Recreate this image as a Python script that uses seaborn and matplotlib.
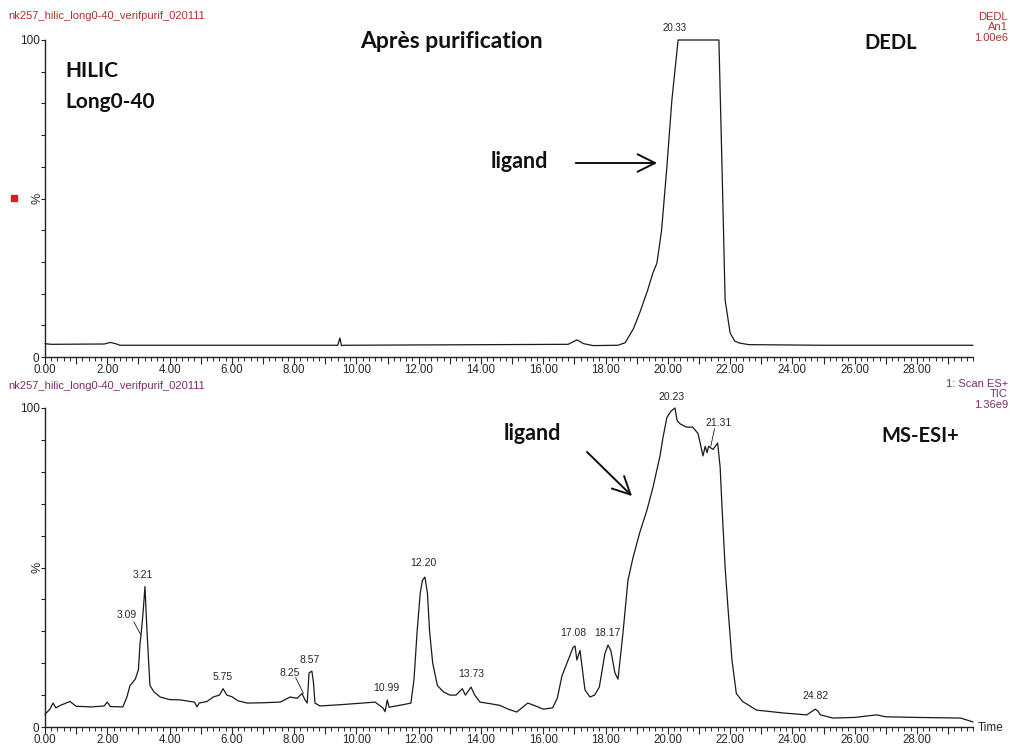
import numpy as np
import pandas as pd
import matplotlib
matplotlib.use("Agg")
import matplotlib.pyplot as plt
import matplotlib.ticker as mticker
import seaborn as sns


# trace 1 : DEDL detector (percent of 1.00e6)
dedl_time = [0.0, 0.2, 1.9, 2.1, 2.3, 2.4, 9.40, 9.47, 9.52, 9.6, 16.8, 17.08, 17.3,
             17.6, 18.4, 18.63, 18.9, 19.1, 19.35, 19.52, 19.65, 19.8, 19.97, 20.13,
             20.33, 21.64, 21.74, 21.84, 22.0, 22.15, 22.3, 22.6, 25.0, 29.8]
dedl_pct = [4.2, 4.0, 4.1, 4.6, 4.1, 3.7, 3.7, 6.0, 3.6, 3.7, 4.0, 5.4, 4.2,
            3.6, 3.7, 4.5, 9.0, 14.0, 21.0, 26.5, 29.6, 40.0, 60.0, 81.0,
            100.0, 100.0, 60.0, 18.0, 7.6, 5.0, 4.4, 3.9, 3.7, 3.7]

# trace 2 : MS-ESI+ TIC (percent of 1.36e9)
tic_time = [0.0, 0.15, 0.26, 0.35, 0.5, 0.8, 1.0, 1.5, 1.9, 2.0, 2.1, 2.5, 2.63, 2.73,
            2.9, 3.0, 3.05, 3.09, 3.15, 3.21, 3.27, 3.33, 3.37, 3.5, 3.7, 4.0, 4.34,
            4.8, 4.88, 4.95, 5.2, 5.4, 5.6, 5.72, 5.78, 5.84, 6.0, 6.2, 6.5, 7.0,
            7.55, 7.87, 8.1, 8.25, 8.35, 8.42, 8.48, 8.57, 8.62, 8.67, 8.83, 9.5,
            10.2, 10.6, 10.85, 10.92, 10.99, 11.05, 11.5, 11.75, 11.85, 11.95, 12.05,
            12.12, 12.2, 12.28, 12.35, 12.45, 12.6, 12.8, 13.0, 13.2, 13.4, 13.5,
            13.68, 13.8, 13.97, 14.3, 14.6, 14.9, 15.15, 15.5, 15.7, 16.0, 16.3,
            16.45, 16.6, 16.8, 16.96, 17.02, 17.08, 17.18, 17.34, 17.5, 17.65, 17.8,
            17.98, 18.08, 18.17, 18.3, 18.4, 18.56, 18.72, 18.88, 19.1, 19.33, 19.52,
            19.75, 19.85, 19.97, 20.1, 20.23, 20.3, 20.4, 20.6, 20.8, 20.97, 21.13,
            21.2, 21.26, 21.31, 21.45, 21.6, 21.68, 21.74, 21.84, 21.93, 22.06, 22.2,
            22.4, 22.85, 23.7, 24.46, 24.6, 24.73, 24.82, 24.9, 25.3, 26.0, 26.7,
            27.0, 28.0, 29.4, 29.8]
tic_pct = [4.0, 5.5, 7.5, 6.0, 6.8, 8.0, 6.5, 6.3, 6.6, 7.8, 6.4, 6.3, 9.4, 13.0,
           15.0, 18.0, 26.0, 29.5, 36.0, 44.0, 31.0, 20.0, 13.0, 11.0, 9.4, 8.6, 8.5,
           7.8, 6.3, 7.5, 8.0, 9.4, 10.0, 12.0, 11.0, 10.0, 9.5, 8.2, 7.5, 7.6,
           7.8, 9.4, 9.0, 10.5, 8.5, 7.5, 17.0, 17.5, 14.0, 7.5, 6.6, 7.0,
           7.5, 7.8, 6.0, 4.8, 8.5, 6.2, 7.0, 7.5, 15.0, 30.0, 42.0,
           46.0, 47.0, 42.0, 30.0, 20.0, 13.0, 11.0, 10.0, 10.0, 12.0, 10.0,
           12.5, 10.0, 7.8, 7.3, 6.8, 5.5, 4.7, 7.5, 6.8, 5.6, 6.0,
           9.0, 16.0, 21.0, 25.0, 25.4, 21.0, 24.0, 11.6, 9.4, 10.0, 12.5,
           23.0, 25.7, 24.0, 17.0, 15.0, 29.5, 46.0, 53.0, 61.0, 68.0, 75.0,
           85.0, 91.0, 97.0, 99.0, 100.0, 96.0, 95.0, 94.0, 94.0, 92.0, 85.0,
           88.0, 86.0, 88.0, 87.0, 89.0, 81.5, 69.0, 50.0, 37.6, 21.0, 10.5,
           8.0, 5.3, 4.4, 3.8, 4.7, 5.6, 5.0, 3.8, 2.8, 3.0, 3.8,
           3.2, 3.0, 2.8, 1.6]

# peak labels (text, time, percent where the label sits)
dedl_labels = ["20.33"]
dedl_label_t = [20.23]
dedl_label_pct = [102.3]

tic_labels = ["3.09", "3.21", "5.75", "8.25", "8.57", "10.99", "12.20", "13.73",
              "17.08", "18.17", "20.23", "21.31", "24.82"]
tic_label_t = [2.62, 3.15, 5.72, 7.85, 8.5, 10.95, 12.14, 13.68, 16.96, 18.05,
               20.13, 21.62, 24.73]
tic_label_pct = [33.5, 46.0, 14.0, 15.5, 19.5, 10.8, 50.0, 15.0, 27.8, 27.8,
                 101.8, 93.8, 8.0]

W, H = 1010, 746
LINE = "#1a1a1a"
RED = "#b2302f"
PURPLE = "#7d2d6f"

sns.set_style("ticks")
plt.rcParams["font.family"] = ["Liberation Sans", "DejaVu Sans"]

fig = plt.figure(figsize=(W / 100, H / 100), dpi=100)
fig.patch.set_facecolor("white")


def px(x, y):
    return x / W, 1 - y / H


def style_axis(ax):
    sns.despine(ax=ax)
    ax.set_xlim(0, 29.8)
    ax.set_ylim(0, 100)
    ax.xaxis.set_major_locator(mticker.MultipleLocator(1))
    ax.xaxis.set_minor_locator(mticker.MultipleLocator(0.2))
    ax.xaxis.set_major_formatter(mticker.FuncFormatter(
        lambda v, p: "%.2f" % v if round(v) % 2 == 0 else ""))
    ax.set_yticks([0, 100])
    ax.set_yticklabels(["0", "100"])
    ax.yaxis.set_minor_locator(mticker.MultipleLocator(10))
    ax.tick_params(axis="x", which="major", length=5, width=0.8, labelsize=8.3, pad=0)
    ax.tick_params(axis="x", which="minor", length=3, width=0.7)
    ax.tick_params(axis="y", which="both", length=3, width=0.8, labelsize=8.5, pad=1)
    for s in ["left", "bottom"]:
        ax.spines[s].set_linewidth(1.0)
        ax.spines[s].set_color("#222222")
    ax.set_xlabel("")
    ax.set_ylabel("%", fontsize=9, rotation=90)
    ax.yaxis.set_label_coords(-0.002, 0.5)
    ax.set_facecolor("white")


ax1 = fig.add_axes([45 / W, 1 - 357 / H, 928 / W, 317 / H])
ax2 = fig.add_axes([45 / W, 1 - 727 / H, 928 / W, 319 / H])

df1 = pd.DataFrame({"time": dedl_time, "pct": dedl_pct})
df2 = pd.DataFrame({"time": tic_time, "pct": tic_pct})
sns.lineplot(data=df1, x="time", y="pct", ax=ax1, color=LINE, lw=0.9,
             estimator=None, sort=False, clip_on=False)
sns.lineplot(data=df2, x="time", y="pct", ax=ax2, color=LINE, lw=0.9,
             estimator=None, sort=False, clip_on=False)
style_axis(ax1)
style_axis(ax2)

for lab, t, p in zip(dedl_labels, dedl_label_t, dedl_label_pct):
    ax1.text(t, p, lab, fontsize=7, ha="center", va="bottom", clip_on=False)
for lab, t, p in zip(tic_labels, tic_label_t, tic_label_pct):
    ax2.text(t, p, lab, fontsize=7.5, ha="center", va="bottom", clip_on=False)

# leader lines for labels set off their peaks
ax2.plot([2.85, 3.07], [33.0, 29.0], color=LINE, lw=0.6)
ax2.plot([8.05, 8.3], [15.5, 10.5], color=LINE, lw=0.6)
ax2.plot([21.38, 21.5], [88.0, 93.5], color=LINE, lw=0.6)

# headers
fig.text(*px(8, 16), "nk257_hilic_long0-40_verifpurif_020111", color=RED,
         fontsize=8, ha="left", va="center")
fig.text(*px(1008, 12), "DEDL\nAn1\n1.00e6", color=RED, fontsize=8, ha="right",
         va="top", linespacing=1.05)
fig.text(*px(8, 386), "nk257_hilic_long0-40_verifpurif_020111", color=PURPLE,
         fontsize=8, ha="left", va="center")
fig.text(*px(1008, 379), "1: Scan ES+\nTIC\n1.36e9", color=PURPLE, fontsize=8,
         ha="right", va="top", linespacing=1.05)
fig.text(*px(978, 728), "Time", fontsize=8.5, ha="left", va="center")
fig.patches.append(plt.Rectangle(px(11, 201), 6 / W, 6 / H, transform=fig.transFigure,
                                 color="#e01b1b"))

# annotations in bold
bold = dict(fontweight="bold", family=["Lato", "DejaVu Sans"], color="#111111")
fig.text(*px(451, 41), "Après purification", ha="center", va="center", fontsize=16.5, **bold)
fig.text(*px(891, 43), "DEDL", ha="center", va="center", fontsize=14.5, **bold)
fig.text(*px(65, 71), "HILIC", ha="left", va="center", fontsize=15, **bold)
fig.text(*px(65, 102), "Long0-40", ha="left", va="center", fontsize=15, **bold)
fig.text(*px(519, 162), "ligand", ha="center", va="center", fontsize=15.5, **bold)
fig.text(*px(532, 433), "ligand", ha="center", va="center", fontsize=15.5, **bold)
fig.text(*px(920, 436), "MS-ESI+", ha="center", va="center", fontsize=14.5, **bold)

arrow = dict(arrowstyle="->,head_length=0.9,head_width=0.45", lw=1.4, color="#111111")
fig.add_artist(matplotlib.patches.FancyArrowPatch(px(573, 163), px(660, 163),
               transform=fig.transFigure, mutation_scale=14, **arrow))
fig.add_artist(matplotlib.patches.FancyArrowPatch(px(585, 450), px(634, 498),
               transform=fig.transFigure, mutation_scale=14, **arrow))

fig.savefig("out.png", dpi=100, facecolor="white")
